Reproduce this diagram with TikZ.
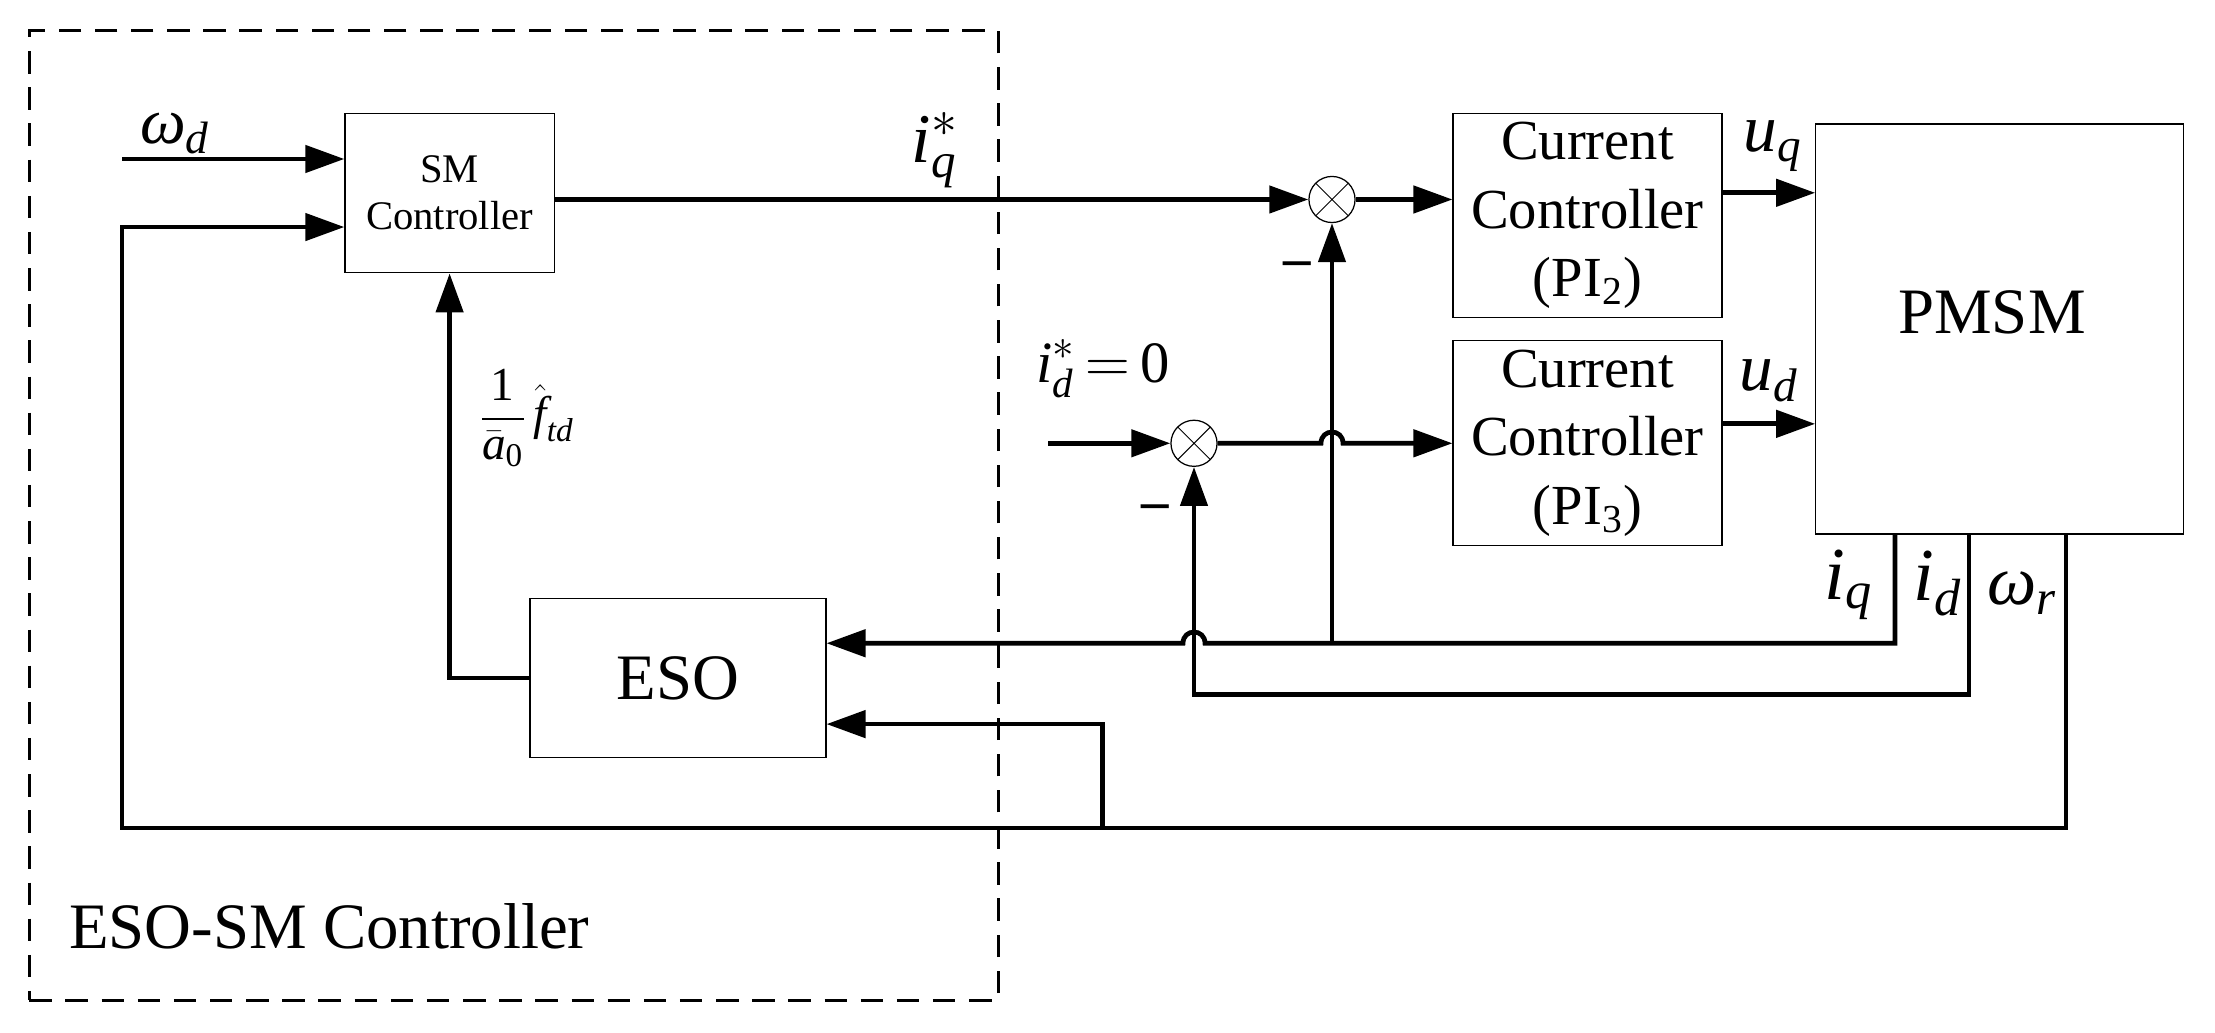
\documentclass[tikz,border=0pt]{standalone}
\usepackage{amsmath}
\usepackage{fontspec}
\setmainfont{Liberation Serif}
\usetikzlibrary{arrows.meta,calc}

\begin{document}
\begin{tikzpicture}[x=0.0141cm, y=-0.0141cm,
	blk/.style={draw, line width=0.5pt, inner sep=0pt, align=center},
	sumnode/.style={circle, draw, line width=0.5pt, minimum size=0.65cm, inner sep=0pt,
		path picture={\draw[line width=0.4pt] (path picture bounding box.north west) -- (path picture bounding box.south east)
			(path picture bounding box.north east) -- (path picture bounding box.south west);}},
	wire/.style={line width=1.9pt},
	sig/.style={wire, -{Triangle[length=0.55cm, width=0.38cm]}},
	lbl/.style={inner sep=0pt}]
		%\draw[help lines] (0,0) grid (2215,1033);
		\useasboundingbox (0,0) rectangle (2215,1033);
		
		\node[draw, line width=1.3pt, dash pattern=on 9pt off 5.5pt, minimum width=13.66cm, minimum height=13.67cm] (frame) at (513.75,515.5) {};
		
		\node[blk, minimum width=2.95cm, minimum height=2.25cm, font=\fontsize{16.3}{18.7}\selectfont] (sm) at (449.6,193) {SM\\Controller};
		\foreach \n\y in {2/215.5, 3/443}
		\node[blk, minimum width=3.79cm, minimum height=2.88cm, font=\fontsize{22.7}{27.4}\selectfont] (pi\n) at (1587.5,\y) {Current\\Controller\\(PI\textsubscript{\n})};
		\node[blk, minimum width=5.18cm, minimum height=5.78cm] (pmsm) at (1999.5,329) {};
		\node[lbl, font=\fontsize{26}{28}\selectfont] (pmsmtxt) at (1992,312) {PMSM};
		\node[blk, minimum width=4.17cm, minimum height=2.24cm, font=\fontsize{26}{28}\selectfont] (eso) at (678,678) {ESO};
		
		\node[sumnode] (sq) at (1332,199.5) {};
		\node[sumnode] (sd) at (1194,443.3) {};
		
		\coordinate (wdin) at (122,159);
		\coordinate (idin) at (1048,443.3);
		\foreach \s\x in {iq/1895, id/1969, wr/2066}
		\coordinate (\s_o) at (\x,534);
		\coordinate (iqc) at (1895,643.3);
		\coordinate (idc) at (1969,694.3);
		\coordinate (wrc) at (2066,828);
		\coordinate (wrl) at (122,828);
		\coordinate (wrb) at (1102.7,828);
		
		% forward path
		\draw[sig] (wdin) -- (wdin -| sm.west);
		\draw[sig] (sm.east |- sq) -- (sq.west);
		\draw[sig] (sq.east) -- (pi2.west |- sq);
		\draw[sig] ([yshift=0.32cm]pi2.east) coordinate (uq) -- (uq -| pmsm.west);
		\draw[sig] ([yshift=0.27cm]pi3.east) coordinate (ud) -- (ud -| pmsm.west);
		\draw[sig] (idin) -- (sd.west);
		\draw[sig] (sd.east) -- ($(sq |- sd)+(-11,0)$) .. controls +(0,-15) and +(0,-15) .. ($(sq |- sd)+(11,0)$) -- (pi3.west |- sd);
		
		% feedback
		\draw[sig] (iq_o) -- (iqc) -- ($(sd |- iqc)+(11,0)$) .. controls +(0,-15) and +(0,-15) .. ($(sd |- iqc)+(-11,0)$) -- ([yshift=0.49cm]eso.east);
		\draw[sig] (sq |- iqc) -- (sq.south);
		\draw[sig] (id_o) -- (idc) -| (sd.south);
		\draw[sig] (wr_o) -- (wrc) -- (wrl) |- ([yshift=-0.48cm]sm.west);
		\draw[sig] (wrb) |- ([yshift=-0.65cm]eso.east);
		\draw[sig] (eso.west) -| (sm.south);
		
		% labels
		\node[lbl, font=\fontsize{26}{28}\selectfont] (lwd) at (175,133.5) {$\textit{ω}_{\textit{d}}$};
		\node[lbl, font=\fontsize{28}{30}\selectfont] (liqs) at (935,150) {$\textit{i}^{*}_{\textit{q}}$};
		\node[lbl, font=\fontsize{27}{29}\selectfont] (luq) at (1773,146) {$\textit{u}_{\textit{q}}$};
		\node[lbl, font=\fontsize{27}{29}\selectfont] (lud) at (1769,381) {$\textit{u}_{\textit{d}}$};
		\node[lbl, font=\fontsize{23.5}{25}\selectfont] (lids) at (1103,369) {$\textit{i}^{*}_{\textit{d}}\,{=}\,\text{0}$};
		\node[lbl, font=\fontsize{19}{21}\selectfont] (lfrac) at (526.5,418) {$\displaystyle\frac{\text{1}}{\bar{\textit{a}}_{\text{0}}}\,\hat{\textit{f}}_{\textit{td}}$};
		\node[lbl, font=\fontsize{22}{22}\selectfont\bfseries] (lmq) at (1297,269) {–};
		\node[lbl, font=\fontsize{22}{22}\selectfont\bfseries] (lmd) at (1155,512) {–};
		\node[lbl, font=\fontsize{30}{32}\selectfont] (liq) at (1848.5,585) {$\textit{i}_{\textit{q}}$};
		\node[lbl, font=\fontsize{30}{32}\selectfont] (lid) at (1938,583.5) {$\textit{i}_{\textit{d}}$};
		\node[lbl, font=\fontsize{28}{30}\selectfont] (lwr) at (2022,593) {$\textit{ω}_{\textit{r}}$};
		\node[lbl, anchor=base west, font=\fontsize{26}{28}\selectfont] (ltitle) at (68.7,948.7) {ESO-SM Controller};
		
	\end{tikzpicture}
\end{document}
